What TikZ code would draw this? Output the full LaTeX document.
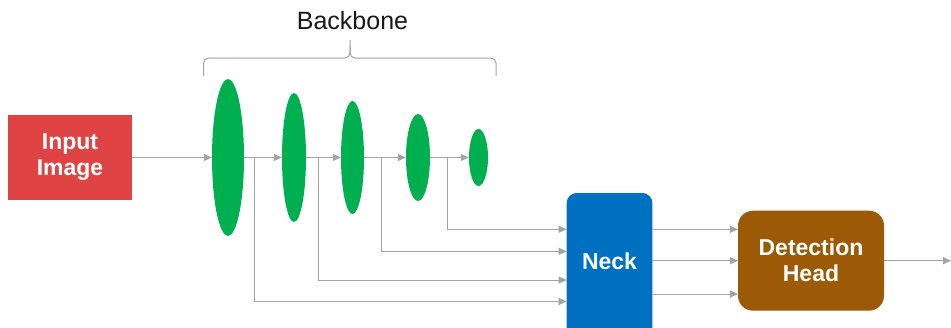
\documentclass[tikz,border=0pt]{standalone}
\usepackage{fontspec}
\setmainfont{Liberation Sans}
\usetikzlibrary{shapes.geometric,arrows.meta}
\definecolor{inred}{HTML}{E04343}
\definecolor{bbgreen}{HTML}{00B050}
\definecolor{neckblue}{HTML}{0070C0}
\definecolor{headbrown}{HTML}{9C5A07}
\definecolor{linegray}{HTML}{A3A3A3}
\tikzset{
  conn/.style={draw=linegray, line width=1pt},
  arr/.style={conn, -{Triangle[length=8pt,width=7pt]}},
  stage/.style={ellipse, fill=bbgreen, draw=none, inner sep=0pt},
  blockbox/.style={draw=none, inner sep=0pt, text=white, align=center,
    font=\bfseries\fontsize{23}{26}\selectfont},
  boxtext/.style={inner sep=0pt, text=white, align=center,
    font=\bfseries\fontsize{23}{26}\selectfont},
}
\begin{document}
\begin{tikzpicture}[x=1pt,y=-1pt]
\clip (0,0) rectangle (951,327);
\fill[white] (0,0) rectangle (951,327);

% Input
\node[blockbox, fill=inred, minimum width=124pt, minimum height=85pt] (input) at (70,157.5) {Input\\Image};

% Backbone stages
\node[stage, minimum width=32pt, minimum height=157pt] (e1) at (228,157.5) {};
\node[stage, minimum width=24pt, minimum height=129pt] (e2) at (294,157.5) {};
\node[stage, minimum width=23pt, minimum height=113pt] (e3) at (352.5,157.5) {};
\node[stage, minimum width=24pt, minimum height=87pt] (e4) at (418,157.5) {};
\node[stage, minimum width=19pt, minimum height=57pt] (e5) at (478.5,157.5) {};

% Brace and label
\node[font=\fontsize{25}{28}\selectfont, text=black!90, inner sep=0pt] (bb) at (352.5,21) {Backbone};
\draw[conn, rounded corners=5pt] (203.5,76) -- (203.5,58) -- (350,58) -- (350,40);
\draw[conn, rounded corners=5pt] (496,76) -- (496,58) -- (350,58) -- (350,46);

% Neck and head
\node[draw=none, fill=neckblue, rounded corners=10pt, minimum width=85.6pt, minimum height=150pt, inner sep=0pt] (neck) at (609.5,268) {};
\node[boxtext] (necktxt) at (609.5,261) {Neck};
\node[blockbox, fill=headbrown, rounded corners=15pt, minimum width=146pt, minimum height=100pt] (head) at (811,260.7) {Detection\\Head};

% main flow
\draw[arr] (input.east) -- (e1.west);
\draw[arr] (e1.east) -- (e2.west);
\draw[arr] (e2.east) -- (e3.west);
\draw[arr] (e3.east) -- (e4.west);
\draw[arr] (e4.east) -- (e5.west);

% branches
\coordinate (b1) at (254.3,157.5);
\coordinate (b2) at (318.7,157.5);
\coordinate (b3) at (381.3,157.5);
\coordinate (b4) at (447.3,157.5);
\coordinate (n1) at (566.7,301.5);
\coordinate (n2) at (566.7,280);
\coordinate (n3) at (566.7,251.3);
\coordinate (n4) at (566.7,229.3);
\draw[arr] (b1) |- (n1);
\draw[arr] (b2) |- (n2);
\draw[arr] (b3) |- (n3);
\draw[arr] (b4) |- (n4);

% neck to head
\coordinate (o1) at (652.3,229.3);
\coordinate (o2) at (652.3,260.7);
\coordinate (o3) at (652.3,294);
\coordinate (h1) at (738,229.3);
\coordinate (h2) at (738,260.7);
\coordinate (h3) at (738,294);
\draw[arr] (o1) -- (h1);
\draw[arr] (o2) -- (h2);
\draw[arr] (o3) -- (h3);

% output
\coordinate (out) at (951,260.7);
\draw[arr] (head.east) -- (out);
\end{tikzpicture}
\end{document}
